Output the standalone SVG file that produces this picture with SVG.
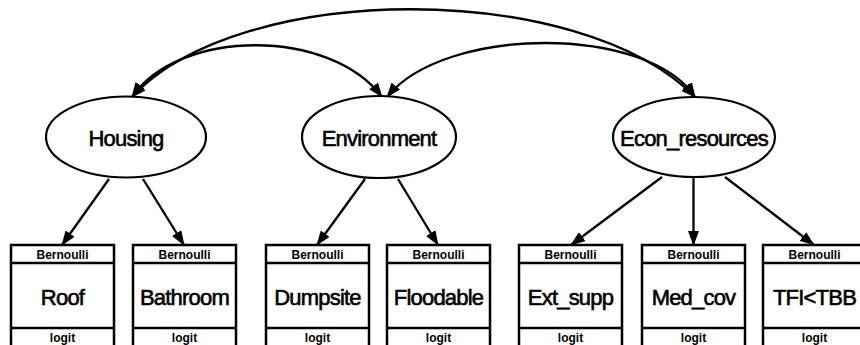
<svg xmlns="http://www.w3.org/2000/svg" width="860" height="345" viewBox="0 0 860 345">
<defs>
<style>
.ell{fill:#fff;stroke:#000;stroke-width:2.2}
.box{fill:#fff;stroke:#000;stroke-width:2.5}
.div{stroke:#000;stroke-width:2.5}
.big{font-family:"Liberation Sans",Arial,sans-serif;font-size:22px;letter-spacing:-0.8px;text-anchor:middle;fill:#000;stroke:#000;stroke-width:0.6}
.small{font-family:"Liberation Sans",Arial,sans-serif;font-size:12px;font-weight:bold;text-anchor:middle;fill:#000}
.cov{fill:none;stroke:#000;stroke-width:2.3;marker-start:url(#ah);marker-end:url(#ah)}
.path{fill:none;stroke:#000;stroke-width:2.3;marker-end:url(#ah)}
</style>
<marker id="ah" viewBox="0 0 15 11" refX="14" refY="5.5" markerWidth="15" markerHeight="11" markerUnits="userSpaceOnUse" orient="auto-start-reverse">
<path d="M0,0 L15,5.5 L0,11 z" fill="#000"/>
</marker>
</defs>
<rect width="860" height="345" fill="#fff"/>
<g id="connectors">
<path class="cov" d="M132,97 C240,-20 580,-20 695,97"/>
<path class="cov" d="M132,97 C180,28 330,28 382,97"/>
<path class="cov" d="M387,97 C445,25 648,25 695,97"/>
<path class="path" d="M109,179 L62,245"/>
<path class="path" d="M143,179 L184,245"/>
<path class="path" d="M365,179 L317,245"/>
<path class="path" d="M398,179 L438,245"/>
<path class="path" d="M662,177 L571,245"/>
<path class="path" d="M693.5,178 L693.5,245"/>
<path class="path" d="M725,177 L814,245"/>
</g>
<g id="Housing">
<ellipse class="ell" cx="126" cy="137" rx="80" ry="40.5"/>
<text class="big" x="126" y="145.5">Housing</text>
</g>
<g id="Environment">
<ellipse class="ell" cx="379" cy="137" rx="77" ry="41"/>
<text class="big" x="379" y="145.5">Environment</text>
</g>
<g id="Econ_resources">
<ellipse class="ell" cx="694" cy="137" rx="81" ry="40"/>
<text class="big" x="694" y="145.5">Econ_resources</text>
</g>
<g id="Roof">
<rect class="box" x="11" y="245" width="103" height="105"/>
<line class="div" x1="11" y1="263" x2="114" y2="263"/>
<line class="div" x1="11" y1="328" x2="114" y2="328"/>
<text class="small" x="62.5" y="259">Bernoulli</text>
<text class="big" x="62.5" y="305">Roof</text>
<text class="small" x="62.5" y="342">logit</text>
</g>
<g id="Bathroom">
<rect class="box" x="133" y="245" width="103" height="105"/>
<line class="div" x1="133" y1="263" x2="236" y2="263"/>
<line class="div" x1="133" y1="328" x2="236" y2="328"/>
<text class="small" x="184.5" y="259">Bernoulli</text>
<text class="big" x="184.5" y="305">Bathroom</text>
<text class="small" x="184.5" y="342">logit</text>
</g>
<g id="Dumpsite">
<rect class="box" x="266" y="245" width="103" height="105"/>
<line class="div" x1="266" y1="263" x2="369" y2="263"/>
<line class="div" x1="266" y1="328" x2="369" y2="328"/>
<text class="small" x="317.5" y="259">Bernoulli</text>
<text class="big" x="317.5" y="305">Dumpsite</text>
<text class="small" x="317.5" y="342">logit</text>
</g>
<g id="Floodable">
<rect class="box" x="387" y="245" width="103" height="105"/>
<line class="div" x1="387" y1="263" x2="490" y2="263"/>
<line class="div" x1="387" y1="328" x2="490" y2="328"/>
<text class="small" x="438.5" y="259">Bernoulli</text>
<text class="big" x="438.5" y="305">Floodable</text>
<text class="small" x="438.5" y="342">logit</text>
</g>
<g id="Ext_supp">
<rect class="box" x="519" y="245" width="103" height="105"/>
<line class="div" x1="519" y1="263" x2="622" y2="263"/>
<line class="div" x1="519" y1="328" x2="622" y2="328"/>
<text class="small" x="570.5" y="259">Bernoulli</text>
<text class="big" x="570.5" y="305">Ext_supp</text>
<text class="small" x="570.5" y="342">logit</text>
</g>
<g id="Med_cov">
<rect class="box" x="642" y="245" width="103" height="105"/>
<line class="div" x1="642" y1="263" x2="745" y2="263"/>
<line class="div" x1="642" y1="328" x2="745" y2="328"/>
<text class="small" x="693.5" y="259">Bernoulli</text>
<text class="big" x="693.5" y="305">Med_cov</text>
<text class="small" x="693.5" y="342">logit</text>
</g>
<g id="TFI_TBB">
<rect class="box" x="763" y="245" width="103" height="105"/>
<line class="div" x1="763" y1="263" x2="866" y2="263"/>
<line class="div" x1="763" y1="328" x2="866" y2="328"/>
<text class="small" x="814.5" y="259">Bernoulli</text>
<text class="big" x="814.5" y="305">TFI&lt;TBB</text>
<text class="small" x="814.5" y="342">logit</text>
</g>
</svg>
